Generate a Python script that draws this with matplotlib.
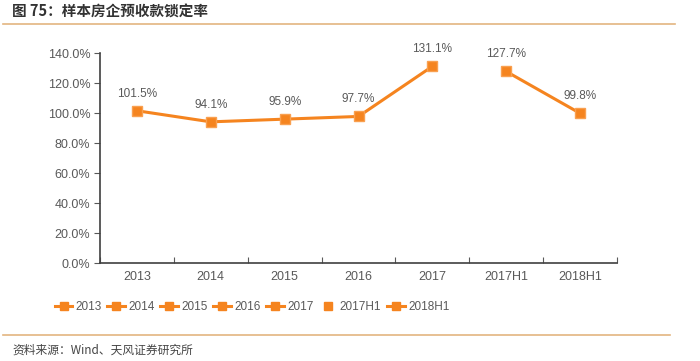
import matplotlib.pyplot as plt
from matplotlib.lines import Line2D

plt.rcParams['font.family'] = ['Liberation Sans', 'Noto Sans CJK SC', 'DejaVu Sans']

# data
categories = ['2013', '2014', '2015', '2016', '2017', '2017H1', '2018H1']
rate = [101.5, 94.1, 95.9, 97.7, 131.1, 127.7, 99.8]
labels = ['101.5%', '94.1%', '95.9%', '97.7%', '131.1%', '127.7%', '99.8%']
y_ticks = [0, 20, 40, 60, 80, 100, 120, 140]

orange = '#F5841F'
gray = '#595959'

fig = plt.figure(figsize=(7, 3.61), dpi=100)
ax = fig.add_axes([100/700, 1 - 263/361, 517/700, 210/361])

x = list(range(len(categories)))
# annual points and half-year points are drawn as two separate pieces
ax.plot(x[:5], rate[:5], color=orange, lw=2.2, marker='s', ms=7, mfc=orange, mec='#F9A050')
ax.plot(x[5:], rate[5:], color=orange, lw=2.2, marker='s', ms=7, mfc=orange, mec='#F9A050')

for xi, v, t in zip(x, rate, labels):
    ax.annotate(t, (xi, v), xytext=(0, 8), textcoords='offset points',
                ha='center', va='bottom', fontsize=8.5, color=gray)

ax.set_xlim(-0.5, len(categories) - 0.5)
ax.set_ylim(0, 140)
ax.set_yticks(y_ticks)
ax.set_yticklabels(['%.1f%%' % v for v in y_ticks], fontsize=9, color=gray)
ax.set_xticks([i - 0.5 for i in range(len(categories) + 1)])
ax.set_xticklabels([])
ax.set_xticks(x, minor=True)
ax.set_xticklabels(categories, minor=True, fontsize=9, color=gray)
ax.tick_params(axis='x', which='minor', length=0, pad=6)
ax.tick_params(axis='x', which='major', length=4, direction='in', color=gray)
ax.tick_params(axis='y', length=4, direction='out', color=gray, pad=3)
for s in ['top', 'right']:
    ax.spines[s].set_visible(False)
for s in ['left', 'bottom']:
    ax.spines[s].set_color('#404040')
    ax.spines[s].set_linewidth(1.2)

# legend, one entry per category
handles = []
for c in categories:
    if c == '2017H1':
        handles.append(Line2D([], [], color=orange, lw=0, marker='s', ms=6))
    else:
        handles.append(Line2D([], [], color=orange, lw=2.2, marker='s', ms=6))
fig.legend(handles, categories, loc='center', bbox_to_anchor=(252/700, 1 - 307/361),
           ncol=7, frameon=False, fontsize=8.5, handlelength=1.5, handletextpad=0.25,
           columnspacing=0.5, labelcolor=gray, borderpad=0)

# title, rules and source
fig.text(12/700, 1 - 12/361, '图 75：样本房企预收款锁定率', fontsize=10.5, fontweight='bold',
         color='#333333', va='center', family=['Noto Sans CJK SC', 'DejaVu Sans'])
fig.add_artist(Line2D([3/700, 675/700], [1 - 24/361, 1 - 24/361], color='#E3B580', lw=1.2))
fig.add_artist(Line2D([3/700, 670/700], [1 - 335/361, 1 - 335/361], color='#E3B580', lw=1.2))
fig.text(12/700, 1 - 350/361, '资料来源：Wind、天风证券研究所', fontsize=8.5, color='#444444',
         va='center', family=['Noto Sans CJK SC', 'DejaVu Sans'])

fig.savefig('out.png', dpi=100)
